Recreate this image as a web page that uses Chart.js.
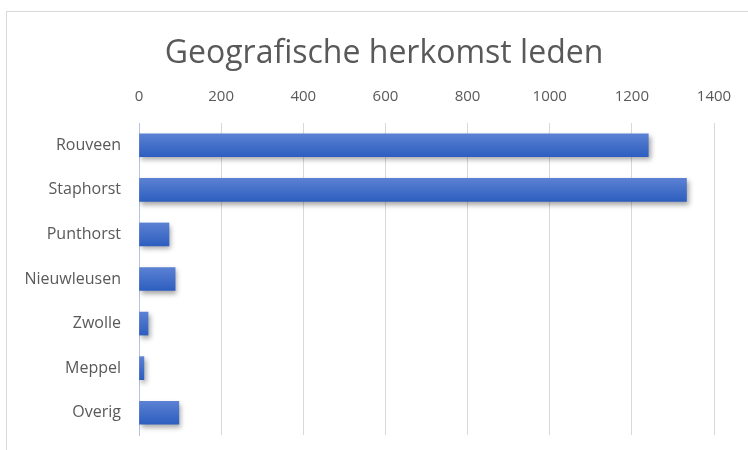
<!DOCTYPE html>
<html>
<head>
<meta charset="utf-8">
<script src="https://cdn.jsdelivr.net/npm/chart.js@4/dist/chart.umd.min.js"></script>
<style>
    html, body { margin: 0; padding: 0; background: #fff; overflow: hidden; }
    #box {
        position: absolute;
        left: 6px;
        top: 11px;
        width: 760px;
        height: 460px;
        border: 1px solid #d9d9d9;
    }
</style>
</head>
<body>
<div id="box"><canvas id="herkomst" width="760" height="460"></canvas></div>
<script>
// Members per place of origin
const places = ["Rouveen", "Staphorst", "Punthorst", "Nieuwleusen", "Zwolle", "Meppel", "Overig"];
const members = [1240, 1333, 73, 88, 22, 12, 97];
const xTicks = [0, 200, 400, 600, 800, 1000, 1200, 1400];
const chartTitle = "Geografische herkomst leden";

const BAR_H = 23;

// soft shadow under the bars, like the office chart
const barShadow = {
    id: "barShadow",
    beforeDatasetsDraw(chart) {
        const c = chart.ctx;
        c.save();
        c.shadowColor = "rgba(0, 0, 0, 0.35)";
        c.shadowBlur = 5;
        c.shadowOffsetX = 2;
        c.shadowOffsetY = 3;
    },
    afterDatasetsDraw(chart) {
        chart.ctx.restore();
    }
};

// title centred on the whole chart box, not on the padded layout
const boxTitle = {
    id: "boxTitle",
    afterDraw(chart) {
        const c = chart.ctx;
        c.save();
        c.font = "32px 'Open Sans', sans-serif";
        c.fillStyle = "#595959";
        c.textAlign = "center";
        c.textBaseline = "alphabetic";
        c.fillText(chartTitle, 377, 51);
        c.restore();
    }
};

function barFill(context) {
    const chart = context.chart;
    const yScale = chart.scales.y;
    if (!yScale || context.dataIndex === undefined) return "#4472c4";
    const mid = yScale.getPixelForValue(context.dataIndex);
    if (!isFinite(mid)) return "#4472c4";
    const g = chart.ctx.createLinearGradient(0, mid - BAR_H / 2, 0, mid + BAR_H / 2);
    g.addColorStop(0, "#5b81d3");
    g.addColorStop(1, "#2d5ebf");
    return g;
}

const ctx = document.getElementById("herkomst").getContext("2d");

new Chart(ctx, {
    type: "bar",
    data: {
        labels: places,
        datasets: [{
            label: "Leden",
            data: members,
            backgroundColor: barFill,
            borderWidth: 0,
            barThickness: BAR_H
        }]
    },
    options: {
        indexAxis: "y",
        responsive: false,
        animation: false,
        layout: {
            padding: { left: 0, right: 53, top: 55, bottom: 37 }
        },
        plugins: {
            legend: { display: false },
            tooltip: { enabled: false },
            title: { display: false }
        },
        scales: {
            x: {
                position: "top",
                min: 0,
                max: 1400,
                afterBuildTicks(axis) {
                    axis.ticks = xTicks.map(v => ({ value: v }));
                },
                afterFit(axis) {
                    axis.height = 56;
                },
                grid: { color: "#d9d9d9", drawTicks: false },
                border: { display: false },
                ticks: {
                    color: "#595959",
                    padding: 17,
                    font: { family: "'Open Sans', sans-serif", size: 15 },
                    callback: v => String(v)
                }
            },
            y: {
                afterFit(axis) {
                    axis.width = 132;
                },
                grid: { display: false },
                border: { display: true, color: "#b4c4e4", width: 1 },
                ticks: {
                    color: "#595959",
                    padding: 10,
                    font: { family: "'Open Sans', sans-serif", size: 16 }
                }
            }
        }
    },
    plugins: [barShadow, boxTitle]
});
</script>
</body>
</html>
